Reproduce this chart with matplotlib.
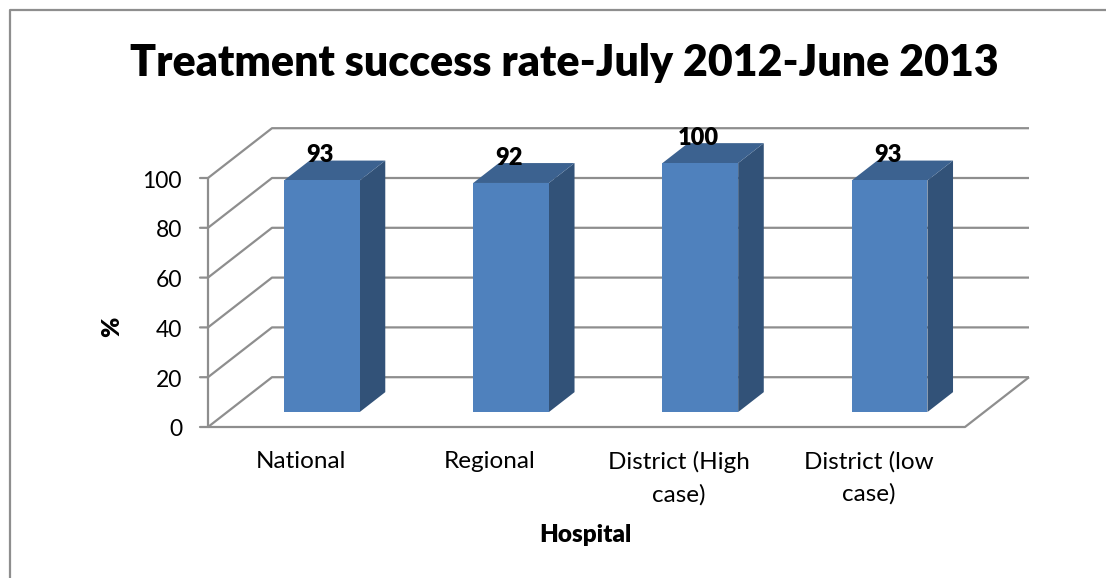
import matplotlib
matplotlib.use("Agg")
import matplotlib.pyplot as plt
from matplotlib.patches import Polygon

plt.rcParams['font.family'] = ['Lato', 'DejaVu Sans']

categories = ['National', 'Regional', 'District (High\ncase)', 'District (low\ncase)']
success_rate = [93, 92, 100, 93]
y_ticks = [0, 20, 40, 60, 80, 100]

W, H = 1106, 578
GRID = '#8e8e8e'
FRONT = '#4f81bd'
TOP = '#3c6290'
SIDE = '#325278'

# oblique projection: depth 1 moves this far along x (categories) and y (%)
DEPTH_X = 64 / 189.25
DEPTH_Y = 20.0
BAR_W = 0.4
BAR_D0, BAR_D1 = 0.3, 0.7


def proj(x, y, d=0.0):
    return (x + d * DEPTH_X, y + d * DEPTH_Y)


def line(ax, pts, lw=1.6, color=GRID, z=1):
    ax.plot([p[0] for p in pts], [p[1] for p in pts], color=color, lw=lw,
            clip_on=False, zorder=z, solid_capstyle='butt')


fig = plt.figure(figsize=(W / 100, H / 100), dpi=100)
ax = fig.add_axes([208 / W, 1 - 427 / H, (965 - 208) / W, (427 - 178) / H])
ax.set_xlim(-0.5, len(categories) - 0.5)
ax.set_ylim(0, 100)
ax.axis('off')

x0, x1 = ax.get_xlim()

# chart frame, only left and top edges are inside the canvas
fig.add_artist(plt.Line2D([10 / W, 10 / W, 1], [0, 1 - 10 / H, 1 - 10 / H],
                          color=GRID, lw=1.6, transform=fig.transFigure))

# walls and floor
for v in y_ticks:
    line(ax, [proj(x0, v), proj(x0, v, 1), proj(x1, v, 1)])
    ax.annotate('', xy=proj(x0, v), xytext=(-8, 0), textcoords='offset pixels',
                arrowprops=dict(arrowstyle='-', color=GRID, lw=1.6, shrinkA=0, shrinkB=0),
                annotation_clip=False)
    ax.annotate(str(v), xy=proj(x0, v), xytext=(-26, -3), textcoords='offset pixels',
                ha='right', va='center', fontsize=16.5, color='black',
                annotation_clip=False)
line(ax, [proj(x0, 0), proj(x0, 100)])
line(ax, [proj(x0, 0), proj(x1, 0), proj(x1, 0, 1)])

# bars as three faces
for i, v in enumerate(success_rate):
    l, r = i - BAR_W / 2, i + BAR_W / 2
    front = [proj(l, 0, BAR_D0), proj(r, 0, BAR_D0), proj(r, v, BAR_D0), proj(l, v, BAR_D0)]
    top = [proj(l, v, BAR_D0), proj(r, v, BAR_D0), proj(r, v, BAR_D1), proj(l, v, BAR_D1)]
    side = [proj(r, 0, BAR_D0), proj(r, 0, BAR_D1), proj(r, v, BAR_D1), proj(r, v, BAR_D0)]
    ax.add_patch(Polygon(side, fc=SIDE, ec='none', clip_on=False, zorder=3))
    ax.add_patch(Polygon(top, fc=TOP, ec='none', clip_on=False, zorder=3))
    ax.add_patch(Polygon(front, fc=FRONT, ec='none', clip_on=False, zorder=3))
    ax.annotate(str(v), xy=proj(i, v, BAR_D0), xytext=(-2, 25), textcoords='offset pixels',
                ha='center', va='center', fontsize=17, fontweight='heavy', zorder=5,
                annotation_clip=False)

# category labels under the floor
for i, c in enumerate(categories):
    ax.annotate(c, xy=(i, 0), xytext=(-2, -24), textcoords='offset pixels',
                ha='center', va='top', fontsize=17.5, linespacing=1.62,
                annotation_clip=False)

fig.text(564 / W, 1 - 63 / H, 'Treatment success rate-July 2012-June 2013',
         ha='center', va='center', fontsize=30.9, fontweight='heavy')
fig.text(585 / W, 1 - 535 / H, 'Hospital', ha='center', va='center',
         fontsize=17.5, fontweight='heavy')
fig.text(112 / W, 1 - 327 / H, '%', ha='center', va='center', rotation=90,
         fontsize=17.5, fontweight='heavy')

fig.savefig('out.png', dpi=100)
